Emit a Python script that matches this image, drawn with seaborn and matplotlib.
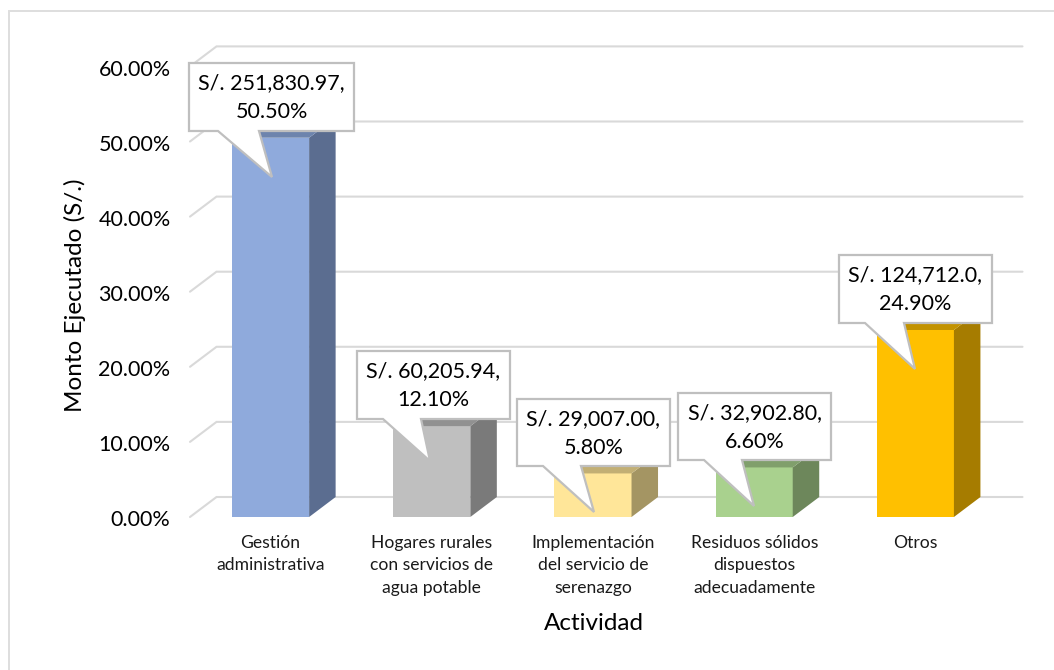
# %%
import numpy as np
import pandas as pd
import matplotlib.pyplot as plt
from matplotlib.lines import Line2D
from matplotlib.patches import Polygon
from matplotlib.transforms import ScaledTranslation
import seaborn as sns

actividades = ['Gestión\nadministrativa', 'Hogares rurales\ncon servicios de\nagua potable',
               'Implementación\ndel servicio de\nserenazgo', 'Residuos sólidos\ndispuestos\nadecuadamente', 'Otros']
porcentaje = [50.5, 12.1, 5.8, 6.6, 24.9]
monto = ['S/. 251,830.97,', 'S/. 60,205.94,', 'S/. 29,007.00,', 'S/. 32,902.80,', 'S/. 124,712.0,']
etiqueta_pct = ['50.50%', '12.10%', '5.80%', '6.60%', '24.90%']
yticks = [0, 10, 20, 30, 40, 50, 60]

color_front = ['#8FAADC', '#BFBFBF', '#FFE699', '#A9D18E', '#FFC000']
color_side = ['#5B6D90', '#7A7A7A', '#A49563', '#6D875B', '#A67C00']
color_top = ['#6D84AD', '#919191', '#C2AF74', '#809F6C', '#C29200']

W, H = 1054, 670

# callout layout in pixels: box left, right, top, bottom, pointer base left/right, tip x, tip y
callouts = [
    (189, 354, 63, 131, 218, 259, 272, 177),
    (357, 510, 351, 419, 383, 421, 430, 461),
    (517, 670, 399, 466, 543, 581, 594, 512),
    (678, 831, 393, 460, 704, 742, 754, 506),
    (839, 992, 255, 323, 865, 904, 915, 369),
]

# %%
sns.set_theme(style='white')
plt.rcParams['font.family'] = ['Lato', 'DejaVu Sans']

fig = plt.figure(figsize=(W / 100, H / 100), dpi=100)

# chart frame: only top and left edges are inside the crop
fig.add_artist(Line2D([9 / W, 9 / W, 1], [0, 1 - 10.5 / H, 1 - 10.5 / H], color='#dedede', lw=1.4,
                      solid_joinstyle='miter'))

# front plane of the fake 3D box
left, right, bottom, top = 190, 996, 517, 66.4
ax = fig.add_axes([left / W, 1 - bottom / H, (right - left) / W, (bottom - top) / H])
ax.patch.set_alpha(0)

df = pd.DataFrame({'Actividad': actividades, 'Porcentaje': porcentaje})
sns.barplot(data=df, x='Actividad', y='Porcentaje', hue='Actividad', palette=color_front,
            legend=False, width=0.478, saturation=1, linewidth=0, edgecolor='none', ax=ax, zorder=3)
ax.set_xlim(-0.5, 4.5)
ax.set_ylim(0, 60)

# depth of the box, in data units
dx = 26.5 / ((right - left) / 5)
dy = 20 / ((bottom - top) / 60)
half = 0.478 / 2

for t in yticks:
    ax.plot([-0.5, -0.5 + dx, 4.5 + dx], [t, t + dy, t + dy], color='#d9d9d9', lw=1.5,
            clip_on=False, zorder=1, solid_joinstyle='miter')

for i, v in enumerate(porcentaje):
    side = [(i + half, 0), (i + half + dx, dy), (i + half + dx, v + dy), (i + half, v)]
    roof = [(i - half, v), (i - half + dx, v + dy), (i + half + dx, v + dy), (i + half, v)]
    ax.add_patch(Polygon(side, fc=color_side[i], ec='none', clip_on=False, zorder=3))
    ax.add_patch(Polygon(roof, fc=color_top[i], ec='none', clip_on=False, zorder=3))

sns.despine(ax=ax, left=True, bottom=True)
ax.set_yticks(yticks)
ax.set_yticklabels([f'{t:.2f}%' for t in yticks], fontsize=15.5, color='black')
ax.tick_params(axis='y', length=0, pad=14)
ax.tick_params(axis='x', length=0, pad=13)
ax.set_xticks(range(5))
ax.set_xticklabels(actividades, fontsize=12.6, color='#1a1a1a', linespacing=1.49)
ax.set_xlabel('')
ax.set_ylabel('')
for lab in ax.get_yticklabels():
    lab.set_transform(lab.get_transform() + ScaledTranslation(0, -1.5 / 100, fig.dpi_scale_trans))

fig.text(75 / W, 1 - 295 / H, 'Monto Ejecutado (S/.)', rotation=90, fontsize=17.5, ha='center', va='center', color='black')
fig.text(593.5 / W, 1 - 623 / H, 'Actividad', fontsize=17.5, ha='center', va='center', color='black')

# %%
# callouts drawn in pixel space on the figure
overlay = fig.add_axes([0, 0, 1, 1])
overlay.set_xlim(0, W)
overlay.set_ylim(H, 0)
overlay.axis('off')
overlay.patch.set_alpha(0)
for (l, r, t, b, p1, p2, tx, ty), m, p in zip(callouts, monto, etiqueta_pct):
    shape = [(l, t), (r, t), (r, b), (p2, b), (tx, ty), (p1, b), (l, b)]
    overlay.add_patch(Polygon(shape, fc='white', ec='#bfbfbf', lw=1.6, joinstyle='miter'))
    overlay.text((l + r) / 2, (t + b) / 2 + 1, m + '\n' + p, fontsize=15.5, ha='center', va='center',
                 color='black', linespacing=1.56)

fig.savefig('out.png', dpi=100)
